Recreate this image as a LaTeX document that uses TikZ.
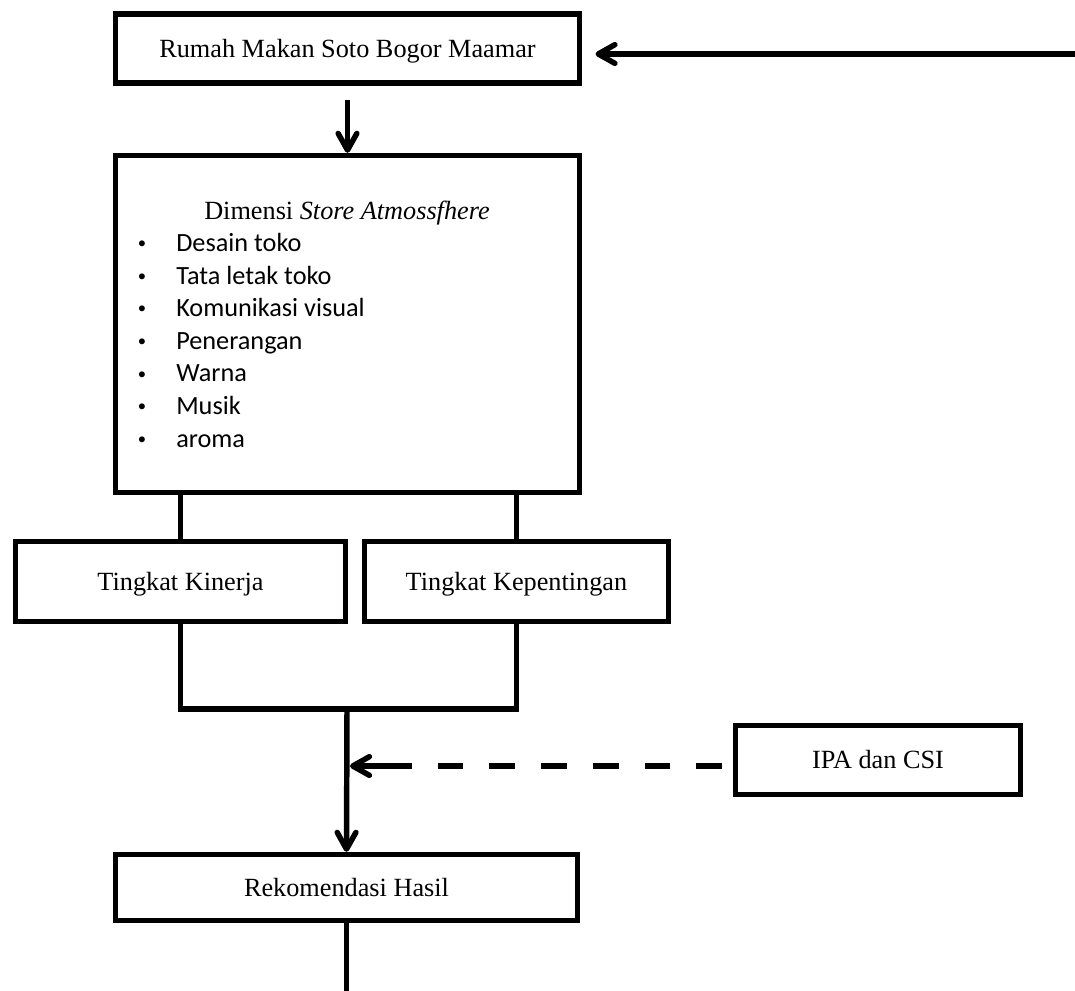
\documentclass[tikz,border=0pt]{standalone}
\usepackage{fontspec}
\setmainfont{Liberation Serif}
\newfontfamily\calibri{Carlito}
\usetikzlibrary{arrows.meta}
\begin{document}
\begin{tikzpicture}[x=0.75pt,y=-0.75pt,
  box/.style={draw, line width=4pt, inner sep=0pt, align=center,
    text height=13.3pt, text depth=0pt,
    font=\fontsize{19.7}{24}\selectfont},
  conn/.style={line width=4.1pt},
  arr/.style={conn, -{Straight Barb[length=12.5pt,width=14pt,line cap=round,line join=round]}},
  itemtext/.style={anchor=base west, inner sep=0pt, font=\calibri\fontsize{19.7}{24}\selectfont},
  bulletmark/.style={anchor=base, inner sep=0pt, font=\calibri\fontsize{12.5}{15}\selectfont},
  ]
\useasboundingbox (0,0) rectangle (1075,991);

% boxes
\node[box, minimum width=464*0.75pt, minimum height=69*0.75pt] (rm) at (347.5,48.5) {Rumah Makan Soto Bogor Maamar};
\node[box, minimum width=464*0.75pt, minimum height=337*0.75pt] (dim) at (347.5,324) {};
\node[box, minimum width=330*0.75pt, minimum height=80*0.75pt] (tk) at (180.5,581.5) {Tingkat Kinerja};
\node[box, minimum width=304*0.75pt, minimum height=80*0.75pt] (tkp) at (516.5,581.5) {Tingkat Kepentingan};
\node[box, minimum width=285*0.75pt, minimum height=69*0.75pt] (ipa) at (878,760) {IPA dan CSI};
\node[box, minimum width=462*0.75pt, minimum height=66*0.75pt] (rh) at (346.5,887.5) {Rekomendasi Hasil};

% contents of the dimension box
\node[anchor=base, inner sep=0pt, font=\fontsize{19.7}{24}\selectfont] (title) at (347,220) {Dimensi \textit{Store Atmossfhere}};
\foreach \t [count=\i] in {Desain toko, Tata letak toko, Komunikasi visual, Penerangan, Warna, Musik, aroma} {
  \pgfmathsetmacro{\yy}{252+32.5*(\i-1)}
  \node[bulletmark] (bul\i) at (142,\yy-3) {•};
  \node[itemtext] (item\i) at (176,\yy) {\t};
}

% coordinates
\coordinate (tin) at (1075,54);
\coordinate (join) at (347,709);
\coordinate (dstart) at (722,766);
\coordinate (dmid) at (412,766);
\coordinate (dend) at (350,766);
\coordinate (out) at (346.5,991);

% connectors
\draw[arr, shorten >=10pt] (tin) -- (tin -| rm.east);
\draw[arr, shorten <=11pt] (rm.south) -- (dim.north);
\draw[conn] (dim.south -| tk.north) -- (tk.north);
\draw[conn] (dim.south -| tkp.north) -- (tkp.north);
\draw[conn] (tk.south) -- (tk.south |- join) -- (tkp.south |- join) -- (tkp.south);
\draw[arr] (join) -- (rh.north);
\draw[conn, dash pattern=on 19.3pt off 19.5pt] (dstart) -- (dmid);
\draw[arr] (dmid) -- (dend);
\draw[conn] (rh.south) -- (out);
\end{tikzpicture}
\end{document}
